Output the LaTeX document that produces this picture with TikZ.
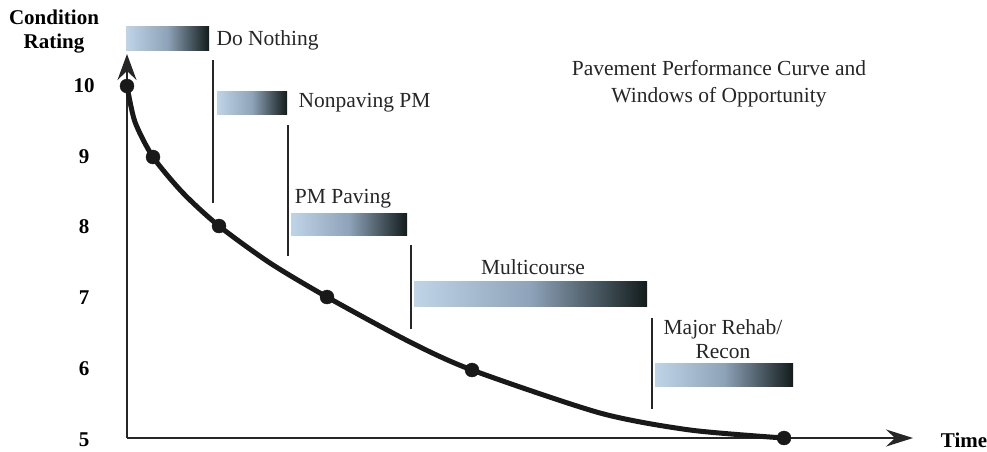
\documentclass[tikz,border=0pt]{standalone}
\usepackage{fontspec}
\setmainfont{Liberation Serif}
\usetikzlibrary{arrows.meta,positioning}
\definecolor{barlight}{HTML}{BFD4E7}
\definecolor{barmid}{HTML}{8EA3B9}
\definecolor{bardark}{HTML}{121C1C}
\tikzset{bigfont/.style={font=\fontsize{21.5}{24}\selectfont}}

\begin{document}
\begin{tikzpicture}[x=1pt,y=-1pt]
\tikzstyle{AxisLab}=[font=\fontsize{21}{24}\selectfont\bfseries, align=center]
\tikzstyle{WinLab}=[bigfont, align=center, text=black!85]
\tikzstyle{WinBar}=[left color=barlight, right color=bardark, middle color=barmid]
\tikzstyle{Limit}=[line width=1.5pt, black!85]

\useasboundingbox (0,0) rectangle (987,451);

% axes
\coordinate (O) at (127,438);
\coordinate (ytop) at (127,54);
\coordinate (xend) at (913,438);
\draw[line width=1.8pt, black!85, -{Stealth[length=26pt,width=19pt,inset=9pt]}] (O) -- (ytop);
\draw[line width=1.8pt, black!85, -{Stealth[length=27pt,width=17pt,inset=9pt]}] (O) -- (xend);

\node[AxisLab] (ylab) at (54,32) {Condition\\Rating};
\node[AxisLab] (xlab) at (964,440) {Time};

\node[AxisLab] (r10) at (84,86) {10};
\node[AxisLab] (r9) at (84,157) {9};
\node[AxisLab] (r8) at (84,227) {8};
\node[AxisLab] (r7) at (84,298) {7};
\node[AxisLab] (r6) at (84,369) {6};
\node[AxisLab] (r5) at (84,440) {5};

% performance curve
\coordinate (p1) at (127,86);
\coordinate (p2) at (153,157);
\coordinate (p3) at (219,226);
\coordinate (p4) at (327,297);
\coordinate (p5) at (472,370);
\coordinate (p6) at (784,438);

\draw[line width=5pt, black!90, line cap=round, line join=round]
  plot[smooth, tension=0.45] coordinates {(p1) (135,122) (p2) (183,193) (p3) (270,263) (p4) (410,342) (p5) (600,413) (690,430) (p6)};

\filldraw [black!90] (p1) circle (7pt);
\filldraw [black!90] (p2) circle (7pt);
\filldraw [black!90] (p3) circle (7pt);
\filldraw [black!90] (p4) circle (7pt);
\filldraw [black!90] (p5) circle (7pt);
\filldraw [black!90] (p6) circle (7pt);

% windows of opportunity
\shade[WinBar] (126,26) rectangle (209,50);
\node[WinLab, anchor=west] (w1) at (213,40) {Do Nothing};
\draw[Limit] (213,60) -- (213,203);

\shade[WinBar] (217,91) rectangle (287,114);
\node[WinLab, anchor=west] (w2) at (295,103) {Nonpaving PM};
\draw[Limit] (288,125) -- (288,256);

\node[WinLab] (w3) at (343,199) {PM Paving};
\shade[WinBar] (291,213) rectangle (407,235);
\draw[Limit] (411,245) -- (411,329);

\node[WinLab] (w4) at (533,267) {Multicourse};
\shade[WinBar] (414,281) rectangle (647,306);
\draw[Limit] (652,318) -- (652,409);

\node[WinLab] (w5) at (723,339) {Major Rehab/\\Recon};
\shade[WinBar] (655,363) rectangle (793,386);

\node[WinLab, font=\fontsize{21.5}{27}\selectfont] (title) at (719,84) {Pavement Performance Curve and\\Windows of Opportunity};
\end{tikzpicture}
\end{document}
